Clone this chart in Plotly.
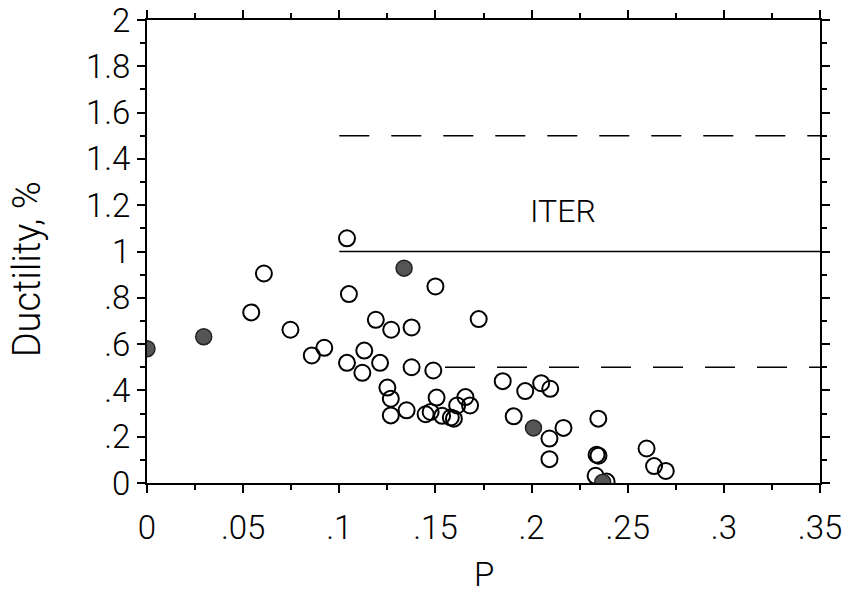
import plotly.graph_objects as go

open_x = [0.0608, 0.0542, 0.0746, 0.0922, 0.0857, 0.104, 0.105, 0.113, 0.104, 0.112,
          0.150, 0.119, 0.127, 0.1376, 0.1725, 0.1212, 0.1376, 0.1489, 0.125, 0.1268,
          0.1268, 0.135, 0.1449, 0.1475, 0.1506, 0.1535, 0.158, 0.1596, 0.1613, 0.1656,
          0.168, 0.185, 0.1967, 0.205, 0.2097, 0.1907, 0.2093, 0.2166, 0.2347, 0.2093,
          0.2338, 0.2348, 0.2333, 0.239, 0.2598, 0.2637, 0.2698]
open_y = [0.905, 0.737, 0.662, 0.584, 0.551, 1.057, 0.816, 0.572, 0.519, 0.476,
          0.849, 0.705, 0.662, 0.672, 0.708, 0.519, 0.500, 0.486, 0.412, 0.364,
          0.292, 0.314, 0.297, 0.307, 0.369, 0.290, 0.283, 0.278, 0.335, 0.371,
          0.335, 0.440, 0.397, 0.431, 0.407, 0.288, 0.192, 0.238, 0.278, 0.103,
          0.122, 0.118, 0.031, 0.006, 0.149, 0.073, 0.052]

filled_x = [0.0, 0.0295, 0.1337, 0.201, 0.237]
filled_y = [0.58, 0.632, 0.928, 0.238, 0.003]

# ITER limits
upper_x = [0.1, 0.35]
upper_y = [1.5, 1.5]
iter_x = [0.1, 0.35]
iter_y = [1.0, 1.0]
lower_x = [0.155, 0.35]
lower_y = [0.5, 0.5]

x_ticks = [0, 0.05, 0.1, 0.15, 0.2, 0.25, 0.3, 0.35]
x_labels = ["0", ".05", ".1", ".15", ".2", ".25", ".3", ".35"]
y_ticks = [0, 0.2, 0.4, 0.6, 0.8, 1.0, 1.2, 1.4, 1.6, 1.8, 2.0]
y_labels = ["0", ".2", ".4", ".6", ".8", "1", "1.2", "1.4", "1.6", "1.8", "2"]

x_title = "P"
y_title = "Ductility, %"

FONT = "Roboto"
W = 300

fig = go.Figure()
fig.add_trace(go.Scatter(x=upper_x, y=upper_y, mode="lines",
                         line=dict(color="black", width=1.6, dash="30px,22px"), hoverinfo="skip"))
fig.add_trace(go.Scatter(x=iter_x, y=iter_y, mode="lines",
                         line=dict(color="black", width=1.6), hoverinfo="skip"))
fig.add_trace(go.Scatter(x=lower_x, y=lower_y, mode="lines",
                         line=dict(color="black", width=1.6, dash="30px,22px"), hoverinfo="skip"))
fig.add_trace(go.Scatter(x=open_x, y=open_y, mode="markers",
                         marker=dict(symbol="circle-open", size=16, color="black",
                                     line=dict(width=2, color="black"))))
fig.add_trace(go.Scatter(x=filled_x, y=filled_y, mode="markers",
                         marker=dict(symbol="circle", size=16, color="#555555",
                                     line=dict(width=1.5, color="#222222"))))

fig.add_annotation(x=0.2166, y=1.174, text="ITER", showarrow=False,
                   font=dict(family=FONT, size=32, color="black", weight=W))

# axis titles placed as paper annotations
fig.add_annotation(xref="paper", yref="paper", x=0.5, y=-0.198, text=x_title,
                   showarrow=False, xanchor="center", yanchor="middle",
                   font=dict(family=FONT, size=33, color="black", weight=W))
fig.add_annotation(xref="paper", yref="paper", x=-0.178, y=0.462, text=y_title,
                   showarrow=False, xanchor="center", yanchor="middle", textangle=-90,
                   font=dict(family=FONT, size=38, color="black", weight=W))

axis_common = dict(showgrid=False, zeroline=False, showline=True, linecolor="black",
                   linewidth=2, mirror="ticks", ticks="outside", ticklen=8,
                   tickwidth=1.5, tickcolor="black", automargin=False,
                   ticklabeloverflow="allow",
                   tickfont=dict(family=FONT, size=33, color="black", weight=W))

fig.update_xaxes(range=[0, 0.35], tickvals=x_ticks, ticktext=x_labels,
                 minor=dict(dtick=0.025, tick0=0, ticks="outside", ticklen=5, tickcolor="black", tickwidth=1.5),
                 ticklabelstandoff=6, **axis_common)
fig.update_yaxes(range=[0, 2], tickvals=y_ticks, ticktext=y_labels,
                 minor=dict(dtick=0.1, tick0=0, ticks="outside", ticklen=5, tickcolor="black", tickwidth=1.5),
                 **axis_common)

fig.update_layout(width=852, height=600, showlegend=False,
                  paper_bgcolor="white", plot_bgcolor="white",
                  margin=dict(l=147, r=32, t=20, b=117))

fig.write_html("out.html")
